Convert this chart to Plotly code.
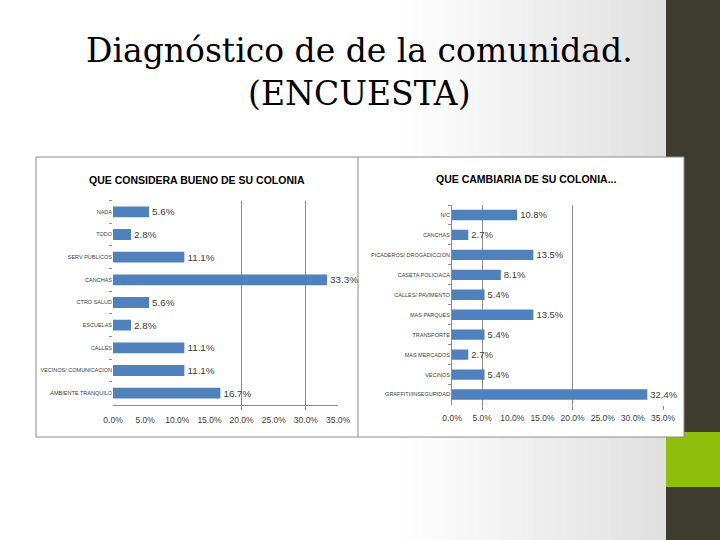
import plotly.graph_objects as go

# ---- data ----
left_title = "QUE CONSIDERA BUENO DE SU COLONIA"
left_categories = ["NADA", "TODO", "SERV PUBLICOS", "CANCHAS", "CTRO SALUD",
                   "ESCUELAS", "CALLES", "VECINOS/ COMUNICACION", "AMBIENTE TRANQUILO"]
left_values = [5.6, 2.8, 11.1, 33.3, 5.6, 2.8, 11.1, 11.1, 16.7]

right_title = "QUE CAMBIARIA DE SU COLONIA..."
right_categories = ["N/C", "CANCHAS", "PICADEROS/ DROGADICCION", "CASETA POLICIACA",
                    "CALLES/ PAVIMENTO", "MAS PARQUES", "TRANSPORTE", "MAS MERCADOS",
                    "VECINOS", "GRAFFITI/INSEGURIDAD"]
right_values = [10.8, 2.7, 13.5, 8.1, 5.4, 13.5, 5.4, 2.7, 5.4, 32.4]

x_ticks = [0, 5, 10, 15, 20, 25, 30, 35]
x_ticktext = ["0.0%", "5.0%", "10.0%", "15.0%", "20.0%", "25.0%", "30.0%", "35.0%"]
left_grid = [20, 30]
right_grid = [5, 20, 35]

title_lines = ["Diagnóstico de de la comunidad.", "(ENCUESTA)"]

# ---- helpers ----
W, H = 720, 540
def px(x): return x / W
def py(y): return 1 - y / H

BAR = "#4f81bd"
TXT = "#404040"
SANS = "Liberation Sans, Arial, sans-serif"

fig = go.Figure()
fig.add_trace(go.Bar(
    x=left_values, y=left_categories, orientation="h", marker_color=BAR, width=0.48,
    text=[f"{v:.1f}%" for v in left_values], textposition="outside",
    textfont=dict(family=SANS, size=10, color=TXT), cliponaxis=False,
    xaxis="x", yaxis="y", showlegend=False))
fig.add_trace(go.Bar(
    x=right_values, y=right_categories, orientation="h", marker_color=BAR, width=0.52,
    text=[f"{v:.1f}%" for v in right_values], textposition="outside",
    textfont=dict(family=SANS, size=10, color=TXT), cliponaxis=False,
    xaxis="x2", yaxis="y2", showlegend=False))

ldom_y = [py(404.5), py(200.5)]
rdom_y = [py(404.5), py(205)]
ldom_x = [px(113), px(338)]
rdom_x = [px(452), px(663)]

common_x = dict(range=[0, 35], tickvals=x_ticks, ticktext=x_ticktext, showgrid=False,
                tickfont=dict(family=SANS, size=8.5, color=TXT), ticks="", tickangle=0,
                ticklabelstandoff=7, zeroline=False, fixedrange=True, automargin=False)
cat_font = dict(family=SANS, size=5.5, color=TXT)
grid_common = dict(range=[0, 35], showticklabels=False, showgrid=True, gridcolor="#8c8c8c",
                   gridwidth=1, ticks="outside", ticklen=4, tickcolor="#8c8c8c",
                   zeroline=False, side="bottom", fixedrange=True, automargin=False)

fig.update_layout(
    template="none",
    width=W, height=H, margin=dict(l=0, r=0, t=0, b=0, pad=0, autoexpand=False),
    paper_bgcolor="white", plot_bgcolor="rgba(0,0,0,0)",
    bargap=0.5,
    xaxis=dict(domain=ldom_x, anchor="y", showline=True, linecolor="#8c8c8c", **common_x),
    yaxis=dict(domain=ldom_y, anchor="x", autorange="reversed", showline=False,
               ticks="outside", ticklen=3, tickcolor="#8c8c8c", tickson="boundaries",
               tickfont=cat_font, showgrid=False, fixedrange=True, automargin=False),
    xaxis2=dict(domain=rdom_x, anchor="y2", showline=False, **common_x),
    yaxis2=dict(domain=rdom_y, anchor="x2", autorange="reversed", showline=True,
                linecolor="#8c8c8c", ticks="outside", ticklen=3, tickcolor="#8c8c8c",
                tickson="boundaries", tickfont=cat_font, showgrid=False, fixedrange=True,
                automargin=False),
    xaxis3=dict(overlaying="x", anchor="y", tickvals=left_grid, **grid_common),
    xaxis4=dict(overlaying="x2", anchor="y2", tickvals=right_grid, **grid_common),
)
# empty traces so the overlay grid axes are drawn
fig.add_trace(go.Scatter(x=[None], y=[None], xaxis="x3", yaxis="y", showlegend=False,
                         hoverinfo="skip"))
fig.add_trace(go.Scatter(x=[None], y=[None], xaxis="x4", yaxis="y2", showlegend=False,
                         hoverinfo="skip"))

shapes = []
# background horizontal gradient (white -> light gray)
x0, x1, n = 400, 666, 24
for i in range(n):
    a = x0 + (x1 - x0) * i / n
    b = x0 + (x1 - x0) * (i + 1) / n + 1
    g = int(255 - (255 - 224) * (i + 0.5) / n)
    shapes.append(dict(type="rect", xref="paper", yref="paper", x0=px(a), x1=px(b),
                       y0=0, y1=1, fillcolor=f"rgb({g},{g},{g})", line_width=0, layer="below"))
# dark strip and green block at right
shapes.append(dict(type="rect", xref="paper", yref="paper", x0=px(666), x1=1, y0=0, y1=1,
                   fillcolor="#3e3c2f", line_width=0, layer="below"))
shapes.append(dict(type="rect", xref="paper", yref="paper", x0=px(666), x1=1,
                   y0=py(487), y1=py(432), fillcolor="#8fbe0c", line_width=0, layer="below"))
# chart frame
shapes.append(dict(type="rect", xref="paper", yref="paper", x0=px(36), x1=px(684),
                   y0=py(437), y1=py(157), fillcolor="white",
                   line=dict(color="#8c8c8c", width=1), layer="below"))
shapes.append(dict(type="line", xref="paper", yref="paper", x0=px(358), x1=px(358),
                   y0=py(437), y1=py(157), line=dict(color="#8c8c8c", width=1), layer="below"))
fig.update_layout(shapes=shapes)

SERIF = "DejaVu Serif, Liberation Serif, serif"
fig.add_annotation(text="<br>".join(title_lines), xref="paper", yref="paper", x=px(359),
                   y=py(72), showarrow=False, xanchor="center", yanchor="middle",
                   align="center", font=dict(family=SERIF, size=33, color="black"))
fig.add_annotation(text=f"<b>{left_title}</b>", xref="paper", yref="paper", x=px(197),
                   y=py(180), showarrow=False, xanchor="center", yanchor="middle",
                   font=dict(family=SANS, size=10.5, color="black"))
fig.add_annotation(text=f"<b>{right_title}</b>", xref="paper", yref="paper", x=px(526),
                   y=py(179), showarrow=False, xanchor="center", yanchor="middle",
                   font=dict(family=SANS, size=10.5, color="black"))

fig.write_html("out.html",
               config={"displayModeBar": False},
               post_script="document.body.style.margin='0';"
                           "document.body.style.overflow='hidden';")
